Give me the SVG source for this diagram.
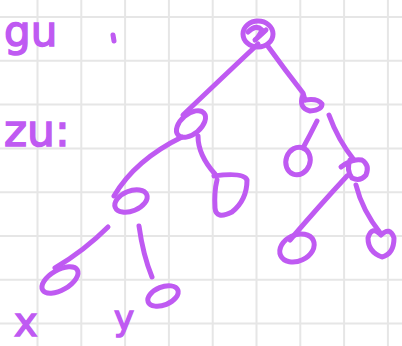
<svg xmlns="http://www.w3.org/2000/svg" width="402" height="346" viewBox="0 0 402 346">
<style>
.grid line{stroke:#e6e6e6;stroke-width:2}
.ink{fill:none;stroke:#bf5af2;stroke-width:5;stroke-linecap:round;stroke-linejoin:round}
.txt{fill:#bf5af2;stroke:#bf5af2;stroke-width:1.5;font-family:"DejaVu Sans",sans-serif}
</style>
<rect width="402" height="346" fill="#ffffff"/>
<g class="grid">
<line x1="37.5" y1="0" x2="37.5" y2="346"/><line x1="81.3" y1="0" x2="81.3" y2="346"/><line x1="125.1" y1="0" x2="125.1" y2="346"/><line x1="168.9" y1="0" x2="168.9" y2="346"/><line x1="212.7" y1="0" x2="212.7" y2="346"/><line x1="256.5" y1="0" x2="256.5" y2="346"/><line x1="300.3" y1="0" x2="300.3" y2="346"/><line x1="344.1" y1="0" x2="344.1" y2="346"/><line x1="387.9" y1="0" x2="387.9" y2="346"/>
<line x1="0" y1="17" x2="402" y2="17"/><line x1="0" y1="60.8" x2="402" y2="60.8"/><line x1="0" y1="104.6" x2="402" y2="104.6"/><line x1="0" y1="148.4" x2="402" y2="148.4"/><line x1="0" y1="192.2" x2="402" y2="192.2"/><line x1="0" y1="236" x2="402" y2="236"/><line x1="0" y1="279.8" x2="402" y2="279.8"/><line x1="0" y1="323.6" x2="402" y2="323.6"/>
</g>
<g id="labels">
<text class="txt" x="4" y="46" font-size="42">gu</text>
<path class="ink" d="M113,35 L114,41"/>
<text class="txt" x="4" y="146" font-size="44">zu:</text>
<text class="txt" x="14" y="336" font-size="40">x</text>
<text class="txt" x="114" y="330" font-size="34">y</text>
</g>
<g id="connectors" class="ink">
<path d="M258,44 Q225,75 183,115"/>
<path d="M267,45 Q285,70 303,93 L305,100"/>
<path d="M198,136 Q198,155 215,174"/>
<path d="M182,137 Q135,160 114,196"/>
<path d="M108,227 Q85,250 55,268"/>
<path d="M139,226 Q143,255 152,277"/>
<path d="M317,121 Q310,135 303,148"/>
<path d="M329,115 Q338,140 354,160"/>
<path d="M347,176 Q320,205 290,240"/>
<path d="M356,185 Q362,210 381,234"/>
</g>
<g id="root"><ellipse class="ink" cx="258" cy="34" rx="15" ry="13"/><path class="ink" d="M248,32 Q256,24 262,30 Q258,38 255,40 Q262,34 266,30"/></g>
<g id="n-l"><ellipse class="ink" cx="191" cy="124" rx="17" ry="10" transform="rotate(-40 191 124)"/></g>
<g id="n-r"><path class="ink" d="M303,95 Q298,108 310,111 Q322,110 322,104 Q318,98 305,100"/></g>
<g id="n-ll"><ellipse class="ink" cx="131" cy="201" rx="17" ry="10" transform="rotate(-22 131 201)"/></g>
<g id="n-lr"><path class="ink" d="M214,176 Q244,172 247,180 Q247,200 232,212 Q216,220 215,208 Q214,192 217,180"/></g>
<g id="n-lll"><ellipse class="ink" cx="60" cy="280" rx="20" ry="10" transform="rotate(-30 60 280)"/></g>
<g id="n-llr"><ellipse class="ink" cx="163" cy="296" rx="16" ry="9" transform="rotate(-22 163 296)"/></g>
<g id="n-rl"><ellipse class="ink" cx="298" cy="161" rx="12" ry="14" transform="rotate(20 298 161)"/></g>
<g id="n-rr"><path class="ink" d="M341,167 Q352,158 362,160 Q370,165 366,175 Q360,182 352,178 Q346,170 350,160"/></g>
<g id="n-rrl"><ellipse class="ink" cx="297" cy="248" rx="18" ry="13" transform="rotate(-25 297 248)"/></g>
<g id="n-rrr"><path class="ink" d="M381,235 Q372,225 368,238 Q368,252 382,257 Q394,254 394,238 Q390,226 381,235"/></g>
</svg>
